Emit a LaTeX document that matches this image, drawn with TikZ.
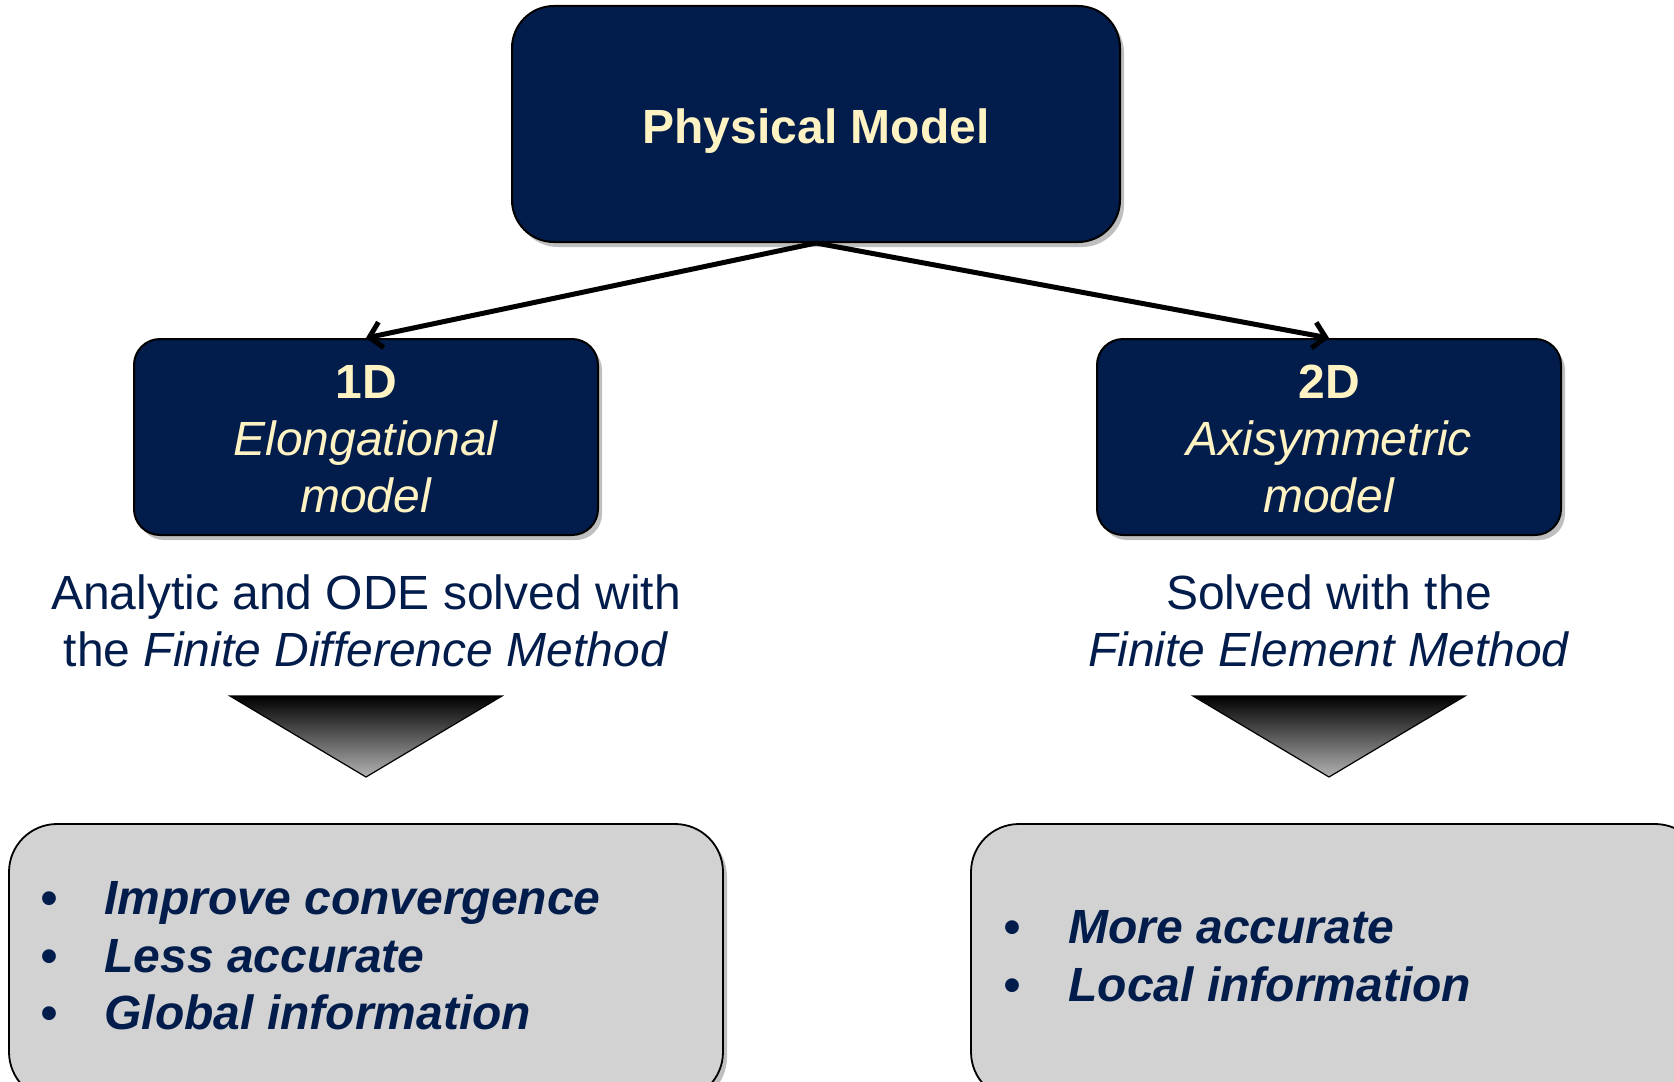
\documentclass[tikz,border=0pt]{standalone}
\usepackage{fontspec}
\setmainfont{Liberation Sans}
\usetikzlibrary{arrows.meta,shadows}
\definecolor{navy}{HTML}{021D4B}
\definecolor{cream}{HTML}{FFF3C4}
\definecolor{boxgray}{HTML}{D2D2D2}
\begin{document}
\begin{tikzpicture}[x=0.5pt,y=-0.5pt,
  txt/.style={font=\fontsize{24}{28.5}\selectfont, align=center, inner sep=0pt},
  softshadow/.style={drop shadow={shadow xshift=2pt, shadow yshift=-2.5pt, opacity=0.25, fill=black}},
  darkbox/.style={txt, draw=black, line width=1pt, fill=navy, text=cream, softshadow},
  topbox/.style={darkbox, rounded corners=21pt, minimum width=304pt, minimum height=118pt, text height=24.5pt, font=\fontsize{24}{28.5}\selectfont\bfseries},
  midbox/.style={darkbox, rounded corners=13pt, minimum width=232pt, minimum height=98pt},
  descr/.style={txt, text=navy},
  graybox/.style={draw=black, line width=0.9pt, fill=boxgray, rounded corners=24pt, minimum height=138pt, softshadow},
  bullets/.style={txt, align=left, text=navy, font=\fontsize{24}{28.75}\selectfont\bfseries\itshape},
  link/.style={line width=2.5pt, -{Straight Barb[length=6pt,width=13pt,line width=2.5pt]}},
  linkshadow/.style={line width=2.5pt, draw=black, opacity=0.15},
  funnel/.style={draw=black, line width=0.6pt, top color=black, bottom color=black!30}
]
\useasboundingbox (0,0) rectangle (1674,1081);
\clip (0,0) rectangle (1674,1081);

% top box
\node[topbox] (phys) at (816,124) {Physical Model};

% middle boxes
\node[midbox] (one) at (366,437) {\rule{0pt}{19pt}\textbf{1D}\\\textit{Elongational}\\\textit{model}};
\node[midbox] (two) at (1329,437) {\rule{0pt}{19pt}\textbf{2D}\\\textit{Axisymmetric}\\\textit{model}};

% connectors
\draw[link] (phys.south) -- (one.north);
\draw[link] (phys.south) -- (two.north);

% descriptions
\node[descr] (d1) at (366,621) {Analytic and ODE solved with\\the \textit{Finite Difference Method}};
\node[descr] (d2) at (1329,621) {Solved with the\\\textit{Finite Element Method}};

% funnel triangles
\coordinate (t1a) at (230,696);
\coordinate (t1b) at (502,696);
\coordinate (t1c) at (366,777);
\shade[funnel] (t1a) -- (t1b) -- (t1c) -- cycle;
\coordinate (t2a) at (1193,696);
\coordinate (t2b) at (1465,696);
\coordinate (t2c) at (1329,777);
\shade[funnel] (t2a) -- (t2b) -- (t2c) -- cycle;

% bottom boxes
\node[graybox, minimum width=357pt] (g1) at (366,962) {};
\node[graybox, minimum width=366pt] (g2) at (1337,962) {};

\node[bullets, anchor=west] (b1) at (40,956) {\makebox[32pt][l]{•}Improve convergence\\\makebox[32pt][l]{•}Less accurate\\\makebox[32pt][l]{•}Global information};
\node[bullets, anchor=west] (b2) at (1003,956) {\makebox[32.5pt][l]{•}More accurate\\\makebox[32.5pt][l]{•}Local information};
\end{tikzpicture}
\end{document}
